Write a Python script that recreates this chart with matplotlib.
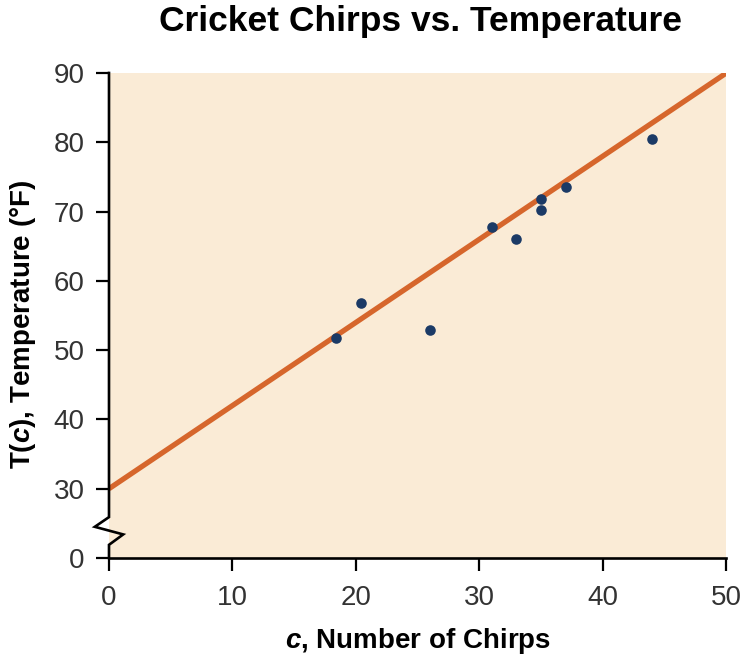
import matplotlib
matplotlib.use("Agg")
import matplotlib.pyplot as plt

plt.rcParams['font.family'] = ['Liberation Sans', 'DejaVu Sans']
plt.rcParams['mathtext.fontset'] = 'custom'
plt.rcParams['mathtext.bfit'] = 'Liberation Sans:italic:bold'
plt.rcParams['mathtext.it'] = 'Liberation Sans:italic:bold'
plt.rcParams['mathtext.rm'] = 'Liberation Sans:bold'

# Data
chirps = [44, 35, 20.4, 33, 31, 35, 18.4, 37, 26]
temps = [80.5, 70.2, 56.8, 66.0, 67.7, 71.8, 51.8, 73.5, 52.9]
line_c = [0, 50]
line_slope = 1.2
line_intercept = 30
x_ticks = [0, 10, 20, 30, 40, 50]
y_tick_labels = ['0', '30', '40', '50', '60', '70', '80', '90']
y_tick_values = [0, 30, 40, 50, 60, 70, 80, 90]

# broken axis: 0 is drawn one step below 30
def ymap(v):
    return 20 if v == 0 else v

fig = plt.figure(figsize=(7.42, 6.58), dpi=100)
ax = fig.add_axes([0.1469, 0.1520, 0.832, 0.7371])
ax.set_xlim(0, 50)
ax.set_ylim(20, 90)
ax.set_facecolor('#FAEBD6')

for s in ['top', 'right', 'left']:
    ax.spines[s].set_visible(False)
ax.spines['bottom'].set_linewidth(1.9)

line_t = [line_slope * c + line_intercept for c in line_c]
ax.plot(line_c, line_t, color='#D6662C', lw=3.8, solid_capstyle='butt', zorder=2)
ax.scatter(chirps, temps, s=58, color='#1B3A66', zorder=3, linewidths=0)

# left axis with break zigzag
ax.plot([0, 0, -1.15, 1.15, 0, 0], [90, 25.9, 24.5, 23.4, 21.9, 20],
        color='black', lw=1.9, clip_on=False, zorder=4, solid_joinstyle='miter')

ax.set_xticks(x_ticks)
ax.set_xticklabels([str(v) for v in x_ticks])
ax.set_yticks([ymap(v) for v in y_tick_values])
ax.set_yticklabels(y_tick_labels)
ax.tick_params(axis='both', direction='out', length=9.5, width=1.6,
               labelsize=20, labelcolor='#333333', color='black')
ax.tick_params(axis='x', pad=10)
ax.tick_params(axis='y', pad=8)

fig.text(421 / 742, 1 - 31 / 658, 'Cricket Chirps vs. Temperature',
         ha='center', va='baseline', fontsize=25.5, fontweight='bold', color='black')
fig.text(418 / 742, 1 - 648 / 658, r'$\mathbfit{c}$, Number of Chirps',
         ha='center', va='baseline', fontsize=20, fontweight='bold', color='black')
fig.text(23 / 742, 1 - 324 / 658, r'T($\mathbfit{c}$), Temperature (°F)',
         ha='center', va='center', rotation=90, fontsize=20, fontweight='bold', color='black')

fig.savefig('out.png', dpi=100)
